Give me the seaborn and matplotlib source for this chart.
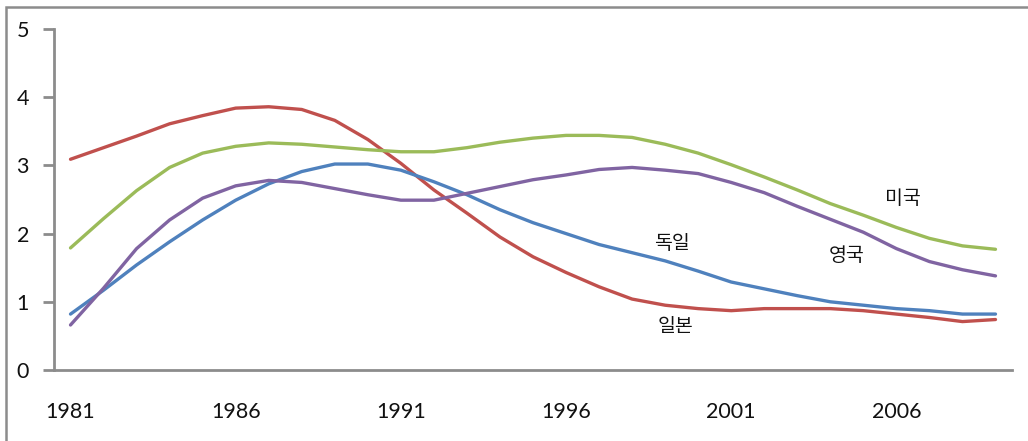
import numpy as np
import pandas as pd
import matplotlib
matplotlib.use("Agg")
import matplotlib.pyplot as plt
import seaborn as sns
from matplotlib.patches import Rectangle

years = list(range(1981, 2010))

japan = [3.09, 3.26, 3.43, 3.61, 3.73, 3.84, 3.86, 3.82, 3.66, 3.38,
         3.03, 2.64, 2.30, 1.95, 1.66, 1.43, 1.22, 1.04, 0.95, 0.90,
         0.87, 0.90, 0.90, 0.90, 0.87, 0.82, 0.77, 0.71, 0.74]
usa = [1.79, 2.22, 2.63, 2.97, 3.18, 3.28, 3.33, 3.31, 3.27, 3.23,
       3.20, 3.20, 3.26, 3.34, 3.40, 3.44, 3.44, 3.41, 3.31, 3.18,
       3.01, 2.83, 2.64, 2.44, 2.27, 2.09, 1.93, 1.82, 1.77]
germany = [0.82, 1.17, 1.54, 1.88, 2.20, 2.49, 2.73, 2.91, 3.02, 3.02,
           2.93, 2.76, 2.57, 2.35, 2.16, 2.00, 1.84, 1.72, 1.60, 1.45,
           1.29, 1.19, 1.09, 1.00, 0.95, 0.90, 0.87, 0.82, 0.82]
uk = [0.66, 1.20, 1.78, 2.20, 2.52, 2.70, 2.78, 2.75, 2.66, 2.57,
      2.49, 2.49, 2.59, 2.69, 2.79, 2.86, 2.94, 2.97, 2.93, 2.88,
      2.75, 2.60, 2.40, 2.21, 2.02, 1.78, 1.59, 1.47, 1.38]

countries = ["일본", "미국", "독일", "영국"]
series = [japan, usa, germany, uk]
colors = ["#C0504D", "#9BBB59", "#4F81BD", "#8064A2"]
xtick_years = [1981, 1986, 1991, 1996, 2001, 2006]
ytick_values = [0, 1, 2, 3, 4, 5]

df = pd.DataFrame({
    "year": np.tile(years, len(countries)),
    "value": np.concatenate(series),
    "country": np.repeat(countries, len(years)),
})

sns.set_theme(style="white")
plt.rcParams["font.family"] = ["Lato", "Noto Sans CJK KR", "DejaVu Sans"]

fig = plt.figure(figsize=(10.28, 4.41), dpi=100)
ax = fig.add_axes([54 / 1028, 71 / 441, (1012 - 54) / 1028, (370 - 29) / 441])

sns.lineplot(data=df, x="year", y="value", hue="country",
             palette=dict(zip(countries, colors)), linewidth=2.4,
             legend=False, ax=ax)

ax.set_xlim(1980.5, 2009.5)
ax.set_ylim(0, 5)
ax.set_xticks(xtick_years)
ax.set_xticklabels([str(y) for y in xtick_years])
ax.set_yticks(ytick_values)
ax.set_xlabel("")
ax.set_ylabel("")

spine_color = "#8C8C8C"
for side in ["top", "right"]:
    ax.spines[side].set_visible(False)
for side in ["left", "bottom"]:
    ax.spines[side].set_color(spine_color)
    ax.spines[side].set_linewidth(2.0)

ax.tick_params(axis="y", direction="out", length=8, width=2.0,
               color=spine_color, labelsize=15.5, pad=10, left=True,
               labelcolor="#111111")
ax.tick_params(axis="x", length=0, labelsize=15.5, pad=23, bottom=False,
               labelcolor="#111111")

# country labels placed next to their curves
label_font = ["Noto Sans CJK KR", "DejaVu Sans"]
label_kw = dict(fontsize=14, family=label_font, ha="center", va="center",
                color="#111111")
ax.text(1999.2, 1.86, "독일", **label_kw)
ax.text(1999.3, 0.64, "일본", **label_kw)
ax.text(2004.5, 1.68, "영국", **label_kw)
ax.text(2006.2, 2.51, "미국", **label_kw)

# outer chart frame
frame = Rectangle((6 / 1028, -0.2), 1.2, (441 - 7) / 441 + 0.2,
                  transform=fig.transFigure, fill=False,
                  edgecolor="#8C8C8C", linewidth=1.8, clip_on=False)
fig.patches.append(frame)

fig.savefig("out.png", dpi=100)
